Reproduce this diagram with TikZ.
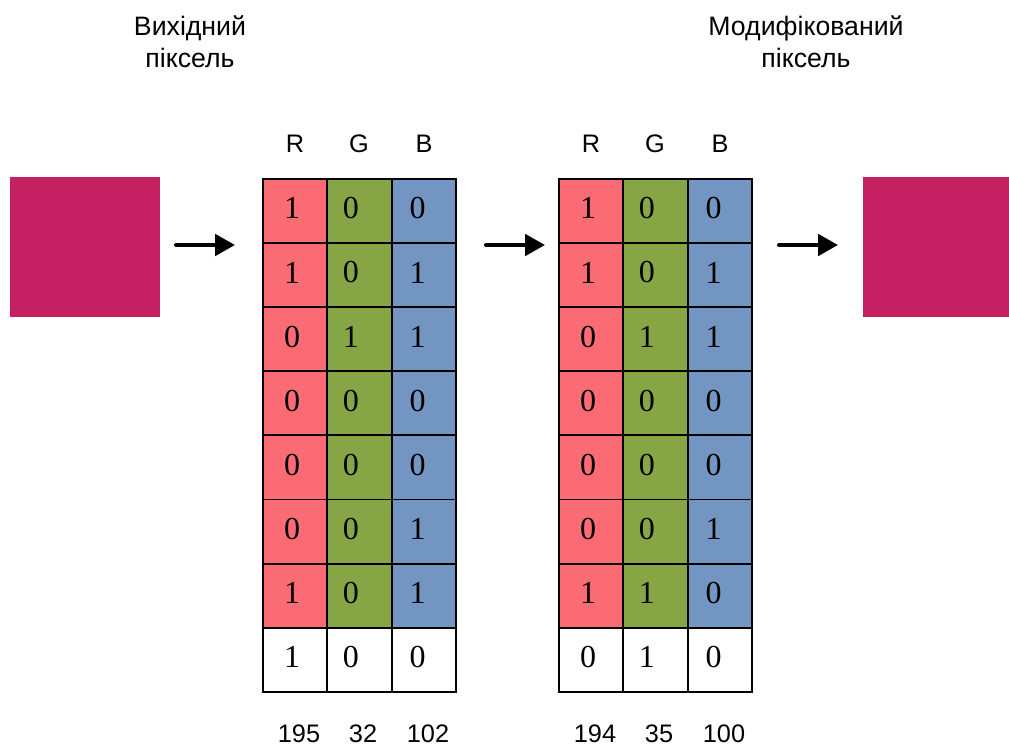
\documentclass[tikz,border=0pt]{standalone}
\usepackage{fontspec}
\setmainfont{Liberation Serif}
\setsansfont{Liberation Sans}
\usetikzlibrary{positioning,
        arrows.meta}
\usepackage{xcolor}

\definecolor{pixcol}{HTML}{C42062}
\definecolor{redcell}{HTML}{FA6B73}
\definecolor{greencell}{HTML}{86A545}
\definecolor{bluecell}{HTML}{7295C1}

\begin{document}
\begin{tikzpicture}[x=0.75pt,y=-0.75pt,
        pixel/.style={fill=pixcol,inner sep=0,outer sep=0,anchor=north west,minimum height=105pt},
        cell/.style={minimum width=48.2pt,minimum height=48.1pt,inner sep=0,outer sep=0,anchor=north west},
        border/.style={line width=1.4pt},
        bit/.style={font=\fontsize{24}{28}\selectfont,yshift=2pt},
        chan/.style={font=\sffamily\fontsize{19}{22}\selectfont},
        title/.style={font=\sffamily\fontsize{20}{24}\selectfont,align=center},
        arr/.style={line width=3pt,line cap=round,-{Triangle[length=15pt,width=16pt]}}]
        \useasboundingbox (0,0) rectangle (1009,746);

        % titles
        \node [title] (tin) at (190,42) {Вихідний\\піксель};
        \node [title] (tout) at (806,42) {Модифікований\\піксель};

        % colour squares
        \node [pixel,minimum width=112.5pt] (pin) at (10,177) {};
        \node [pixel,minimum width=109.5pt] (pout) at (863,177) {};

        % source bits
        \foreach \r/\R/\G/\B in {0/1/0/0, 1/1/0/1, 2/0/1/1, 3/0/0/0, 4/0/0/0, 5/0/0/1, 6/1/0/1, 7/1/0/0} {
            \ifnum\r<7 \def\fillR{redcell}\def\fillG{greencell}\def\fillB{bluecell}%
            \else \def\fillR{white}\def\fillG{white}\def\fillB{white}\fi
            \node [cell,fill=\fillR,label={[bit,xshift=-2.2pt]center:\R}] (s\r-1) at (263,{179+\r*64.1}) {};
            \node [cell,fill=\fillG,label={[bit,xshift=-6.4pt]center:\G}] (s\r-2) at (327.3,{179+\r*64.1}) {};
            \node [cell,fill=\fillB,label={[bit,xshift=-4.5pt]center:\B}] (s\r-3) at (391.6,{179+\r*64.1}) {};
        }

        % modified bits
        \foreach \r/\R/\G/\B in {0/1/0/0, 1/1/0/1, 2/0/1/1, 3/0/0/0, 4/0/0/0, 5/0/0/1, 6/1/1/0, 7/0/1/0} {
            \ifnum\r<7 \def\fillR{redcell}\def\fillG{greencell}\def\fillB{bluecell}%
            \else \def\fillR{white}\def\fillG{white}\def\fillB{white}\fi
            \node [cell,fill=\fillR,label={[bit,xshift=-2.2pt]center:\R}] (m\r-1) at (559,{179+\r*64.1}) {};
            \node [cell,fill=\fillG,label={[bit,xshift=-6.4pt]center:\G}] (m\r-2) at (623.3,{179+\r*64.1}) {};
            \node [cell,fill=\fillB,label={[bit,xshift=-4.5pt]center:\B}] (m\r-3) at (687.6,{179+\r*64.1}) {};
        }

        % cell borders on top of the fills
        \foreach \r in {0,...,7}
            \foreach \c in {1,2,3} {
                \draw [border] (s\r-\c.north west) rectangle (s\r-\c.south east);
                \draw [border] (m\r-\c.north west) rectangle (m\r-\c.south east);
            }

        % channel letters
        \node [chan] (sr) at (295,144) {R};
        \node [chan] (sg) at (359,144) {G};
        \node [chan] (sb) at (424,144) {B};
        \node [chan] (mr) at (591,144) {R};
        \node [chan] (mg) at (655,144) {G};
        \node [chan] (mb) at (720,144) {B};

        % channel values
        \node [chan] (vsr) at (299,734) {195};
        \node [chan] (vsg) at (363,734) {32};
        \node [chan] (vsb) at (428,734) {102};
        \node [chan] (vmr) at (595,734) {194};
        \node [chan] (vmg) at (659,734) {35};
        \node [chan] (vmb) at (724,734) {100};

        % arrows
        \coordinate (a1) at (176,245);
        \coordinate (b1) at (235,245);
        \coordinate (a2) at (486,245);
        \coordinate (b2) at (545,245);
        \coordinate (a3) at (779,245);
        \coordinate (b3) at (838,245);
        \draw [arr] (a1) -- (b1);
        \draw [arr] (a2) -- (b2);
        \draw [arr] (a3) -- (b3);
\end{tikzpicture}
\end{document}
